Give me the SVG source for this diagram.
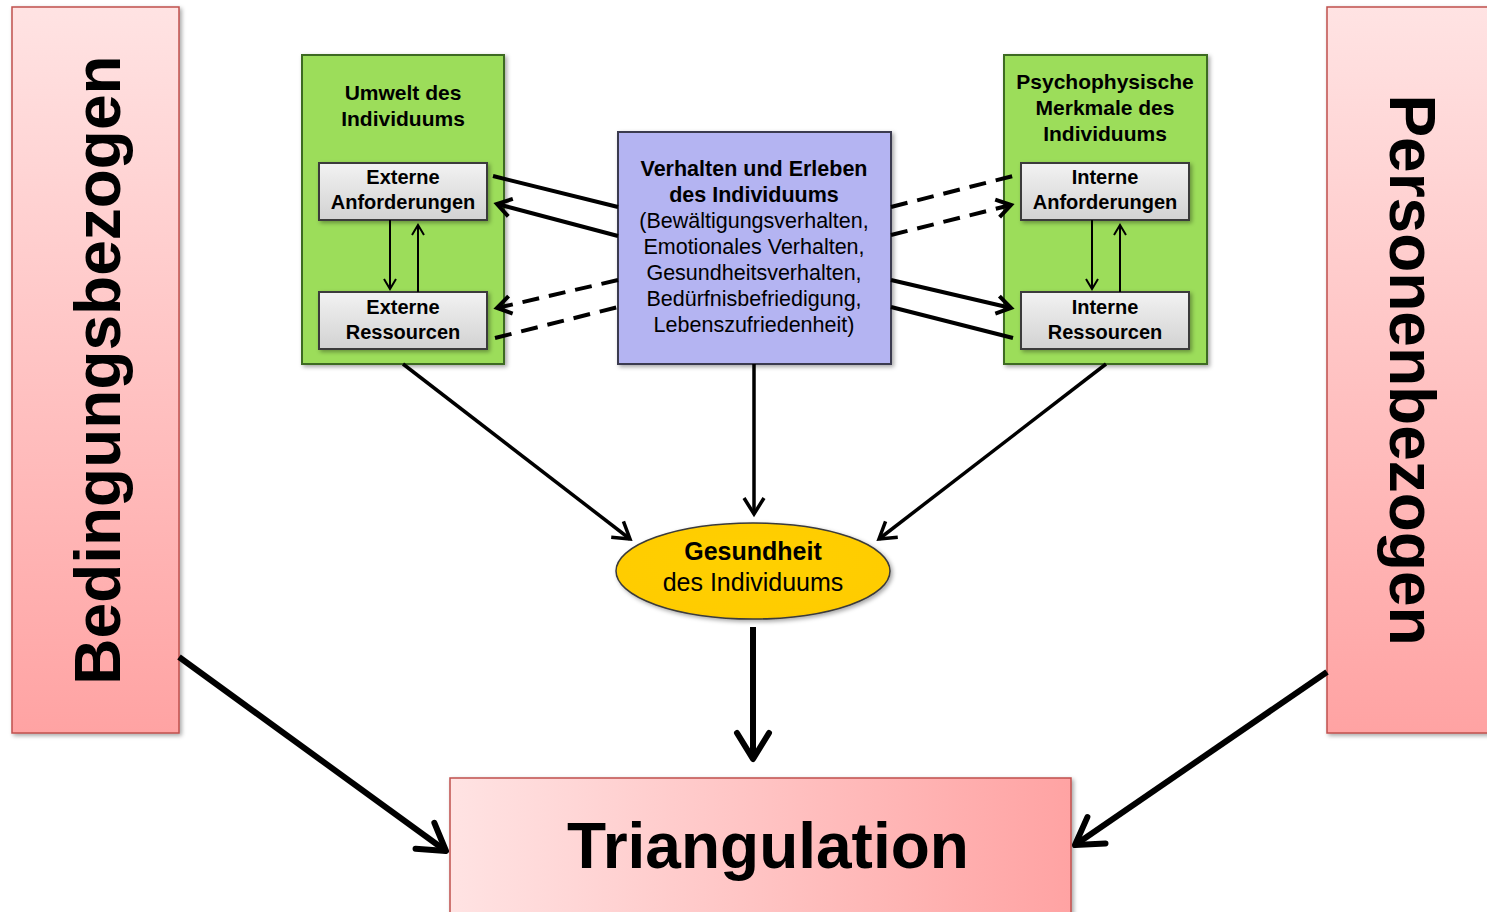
<svg xmlns="http://www.w3.org/2000/svg" width="1487" height="912" viewBox="0 0 1487 912">
<defs>
<linearGradient id="pinkV" x1="0" y1="0" x2="0" y2="1"><stop offset="0" stop-color="#ffe3e3"/><stop offset="1" stop-color="#ffa3a3"/></linearGradient>
<linearGradient id="pinkH" x1="0" y1="0" x2="1" y2="0"><stop offset="0" stop-color="#ffe3e3"/><stop offset="1" stop-color="#ffa3a3"/></linearGradient>
<linearGradient id="gray" x1="0" y1="0" x2="0" y2="1"><stop offset="0" stop-color="#f2f2f2"/><stop offset="1" stop-color="#d2d2d2"/></linearGradient>
<radialGradient id="gold" cx="0.5" cy="0.4" r="0.7"><stop offset="0" stop-color="#ffd000"/><stop offset="0.8" stop-color="#ffcc00"/><stop offset="1" stop-color="#f0b800"/></radialGradient>
<filter id="sh" x="-10%" y="-10%" width="130%" height="130%"><feDropShadow dx="2" dy="2" stdDeviation="2" flood-color="#000" flood-opacity="0.35"/></filter>
<marker id="a4" markerUnits="userSpaceOnUse" orient="auto" overflow="visible" markerWidth="1" markerHeight="1"><path d="M-14,-9 L0,0 L-14,9" fill="none" stroke="#000" stroke-width="4"/></marker>
<marker id="a2" markerUnits="userSpaceOnUse" orient="auto" overflow="visible" markerWidth="1" markerHeight="1"><path d="M-10,-6 L0,0 L-10,6" fill="none" stroke="#000" stroke-width="2"/></marker>
<marker id="a3" markerUnits="userSpaceOnUse" orient="auto" overflow="visible" markerWidth="1" markerHeight="1"><path d="M-16,-10 L0,0 L-16,10" fill="none" stroke="#000" stroke-width="3.5"/></marker>
<marker id="a6" markerUnits="userSpaceOnUse" orient="auto" overflow="visible" markerWidth="1" markerHeight="1"><path d="M-26,-16 L0,0 L-26,16" fill="none" stroke="#000" stroke-width="6" stroke-linecap="round" stroke-linejoin="round"/></marker>
</defs>
<style>
text{font-family:"Liberation Sans",Arial,sans-serif;fill:#000;text-anchor:middle}
.b{font-weight:bold}
.green{fill:#9cdd5a;stroke:#3e6b22;stroke-width:2}
.grayb{fill:url(#gray);stroke:#3a3a3a;stroke-width:2}
.pink{stroke:#c0504d;stroke-width:1.5}
.c{fill:none;stroke:#000}
</style>
<rect width="1487" height="912" fill="#fff"/>

<g id="bedingungsbezogen">
<rect class="pink" x="12" y="7" width="167" height="726" fill="url(#pinkV)" filter="url(#sh)"/>
<text class="b" font-size="64" transform="translate(120,370) rotate(-90)">Bedingungsbezogen</text>
</g>
<g id="personenbezogen">
<rect class="pink" x="1327" y="7" width="170" height="726" fill="url(#pinkV)" filter="url(#sh)"/>
<text class="b" font-size="64" transform="translate(1390,370) rotate(90)">Personenbezogen</text>
</g>
<g id="triangulation">
<rect class="pink" x="450" y="778" width="621" height="150" fill="url(#pinkH)" filter="url(#sh)"/>
<text class="b" font-size="64" x="768" y="868">Triangulation</text>
</g>

<g id="umwelt">
<rect class="green" x="302" y="55" width="202" height="309" filter="url(#sh)"/>
<text class="b" font-size="21" x="403" y="100">Umwelt des</text>
<text class="b" font-size="21" x="403" y="126">Individuums</text>
</g>
<g id="ext-anf">
<rect class="grayb" x="319" y="163" width="168" height="57" filter="url(#sh)"/>
<text class="b" font-size="20" x="403" y="184">Externe</text>
<text class="b" font-size="20" x="403" y="209">Anforderungen</text>
</g>
<g id="ext-res">
<rect class="grayb" x="319" y="292" width="168" height="57" filter="url(#sh)"/>
<text class="b" font-size="20" x="403" y="314">Externe</text>
<text class="b" font-size="20" x="403" y="339">Ressourcen</text>
</g>

<g id="psycho">
<rect class="green" x="1004" y="55" width="203" height="309" filter="url(#sh)"/>
<text class="b" font-size="21" x="1105" y="89">Psychophysische</text>
<text class="b" font-size="21" x="1105" y="115">Merkmale des</text>
<text class="b" font-size="21" x="1105" y="141">Individuums</text>
</g>
<g id="int-anf">
<rect class="grayb" x="1021" y="163" width="168" height="57" filter="url(#sh)"/>
<text class="b" font-size="20" x="1105" y="184">Interne</text>
<text class="b" font-size="20" x="1105" y="209">Anforderungen</text>
</g>
<g id="int-res">
<rect class="grayb" x="1021" y="292" width="168" height="57" filter="url(#sh)"/>
<text class="b" font-size="20" x="1105" y="314">Interne</text>
<text class="b" font-size="20" x="1105" y="339">Ressourcen</text>
</g>

<g id="verhalten">
<rect x="618" y="132" width="273" height="232" fill="#b4b4f2" stroke="#3a3a50" stroke-width="2" filter="url(#sh)"/>
<text class="b" font-size="21.5" x="754" y="176">Verhalten und Erleben</text>
<text class="b" font-size="21.5" x="754" y="202">des Individuums</text>
<text font-size="21.5" x="754" y="228">(Bewältigungsverhalten,</text>
<text font-size="21.5" x="754" y="254">Emotionales Verhalten,</text>
<text font-size="21.5" x="754" y="280">Gesundheitsverhalten,</text>
<text font-size="21.5" x="754" y="306">Bedürfnisbefriedigung,</text>
<text font-size="21.5" x="754" y="332">Lebenszufriedenheit)</text>
</g>

<g id="gesundheit">
<ellipse cx="753" cy="571" rx="137" ry="48" fill="url(#gold)" stroke="#3a3a3a" stroke-width="1.5" filter="url(#sh)"/>
<text class="b" font-size="25" x="753" y="560">Gesundheit</text>
<text font-size="25" x="753" y="591">des Individuums</text>
</g>

<g id="connectors" class="c">
<line x1="493" y1="176" x2="618" y2="207" stroke-width="4"/>
<line x1="618" y1="236" x2="497" y2="204" stroke-width="4" marker-end="url(#a4)"/>
<line x1="618" y1="280" x2="497" y2="308" stroke-width="4" stroke-dasharray="17,10" marker-end="url(#a4)"/>
<line x1="495" y1="338" x2="618" y2="307" stroke-width="4" stroke-dasharray="17,10"/>
<line x1="891" y1="207" x2="1013" y2="176" stroke-width="4" stroke-dasharray="17,10"/>
<line x1="891" y1="235" x2="1011" y2="205" stroke-width="4" stroke-dasharray="17,10" marker-end="url(#a4)"/>
<line x1="891" y1="280" x2="1011" y2="308" stroke-width="4" marker-end="url(#a4)"/>
<line x1="891" y1="307" x2="1013" y2="338" stroke-width="4"/>
<line x1="390" y1="220" x2="390" y2="289" stroke-width="2" marker-end="url(#a2)"/>
<line x1="418" y1="292" x2="418" y2="225" stroke-width="2" marker-end="url(#a2)"/>
<line x1="1092" y1="220" x2="1092" y2="289" stroke-width="2" marker-end="url(#a2)"/>
<line x1="1120" y1="292" x2="1120" y2="225" stroke-width="2" marker-end="url(#a2)"/>
<line x1="403" y1="364" x2="630" y2="539" stroke-width="3.5" marker-end="url(#a3)"/>
<line x1="754" y1="364" x2="754" y2="514" stroke-width="3.5" marker-end="url(#a3)"/>
<line x1="1106" y1="364" x2="879" y2="539" stroke-width="3.5" marker-end="url(#a3)"/>
<line x1="753" y1="627" x2="753" y2="759" stroke-width="6" marker-end="url(#a6)"/>
<line x1="179" y1="657" x2="446" y2="851" stroke-width="6" marker-end="url(#a6)"/>
<line x1="1327" y1="672" x2="1075" y2="845" stroke-width="6" marker-end="url(#a6)"/>
</g>
</svg>
